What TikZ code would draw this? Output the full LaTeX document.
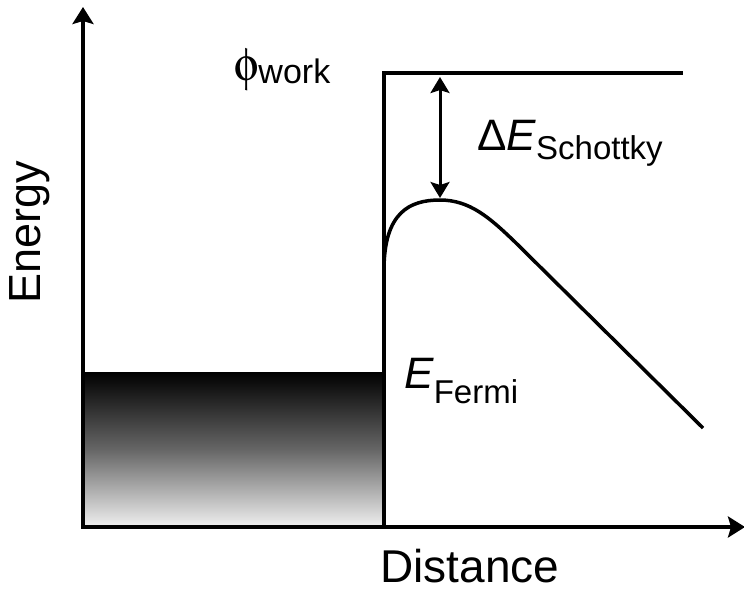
\RequirePackage{fix-cm}
\documentclass[tikz,border=0pt]{standalone}
\usepackage[Symbol]{upgreek}
\usepackage{fontspec}
\setmainfont{Liberation Sans}
\usetikzlibrary{arrows.meta}
\tikzset{
  axisline/.style={line width=4pt, {Stealth[length=17pt,width=21pt,inset=3pt]}-{Stealth[length=17pt,width=21pt,inset=3pt]}},
  bandline/.style={line width=3.5pt, line join=miter},
  dblarrow/.style={line width=3pt, {Stealth[length=16pt,width=19pt,inset=3pt]}-{Stealth[length=16pt,width=19pt,inset=3pt]}},
  lbl/.style={inner sep=0pt, outer sep=0pt},
}
\begin{document}
\begin{tikzpicture}[x=1pt,y=-1pt]
\useasboundingbox (0,0) rectangle (744,592);
% gradient box (Fermi sea)
\fill[top color=black, bottom color=white!94!black, middle color=black!60] (83,372) rectangle (384,527);
\draw[line width=1pt] (384,372) -- (384,527);
% axes
\coordinate (O) at (83,527);
\coordinate (Ytip) at (83,7);
\coordinate (Xtip) at (745,527);
\draw[axisline] (Ytip) -- (O) -- (Xtip);
% barrier
\coordinate (b0) at (384,527);
\coordinate (b1) at (384,73);
\coordinate (b2) at (683,73);
\draw[bandline] (b0) -- (b1) -- (b2);
% curve
\coordinate (c0) at (384,270);
\coordinate (peak) at (440,200);
\coordinate (c2) at (515,242);
\coordinate (cend) at (703,428);
\draw[line width=3.5pt] (c0) .. controls (384,212) and (410,200) .. (peak)
  .. controls (470,200) and (490,218) .. (c2) -- (cend);
% Schottky arrow
\coordinate (atop) at (440,77);
\coordinate (abot) at (440,198);
\draw[dblarrow] (atop) -- (abot);
% labels
\node[lbl, anchor=base west] (phi) at (234,80) {\fontsize{47}{47}\selectfont$\upphi$\kern0pt\fontsize{34}{34}\selectfont\raisebox{-3pt}{work}};
\node[lbl, anchor=base west] (dE) at (477,150) {\fontsize{44}{44}\selectfont Δ\textit{E}\fontsize{33}{33}\selectfont\raisebox{-9pt}{Schottky}};
\node[lbl, anchor=base west] (EF) at (404,388) {\fontsize{44}{44}\selectfont\textit{E}\fontsize{33}{33}\selectfont\raisebox{-15pt}{Fermi}};
\node[lbl, rotate=90] (en) at (30,232) {\fontsize{45}{45}\selectfont Energy};
\node[lbl] (dist) at (470,566) {\fontsize{46}{46}\selectfont Distance};
\end{tikzpicture}
\end{document}
